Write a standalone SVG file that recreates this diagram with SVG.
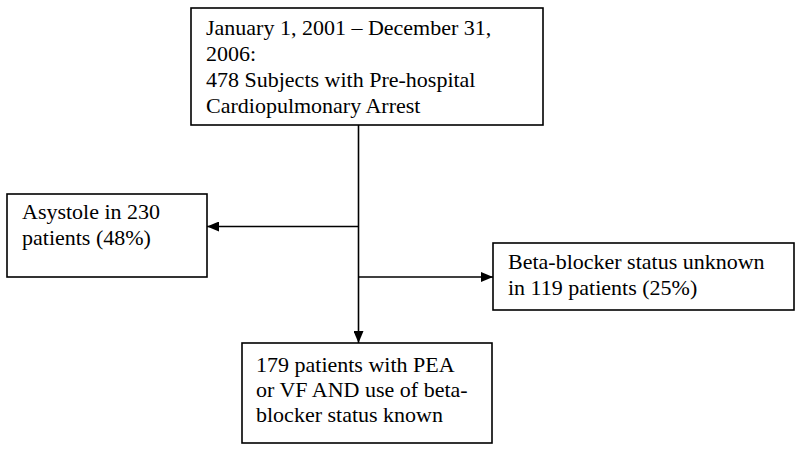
<svg xmlns="http://www.w3.org/2000/svg" width="800" height="450" viewBox="0 0 800 450">
<style>
rect{fill:#fff;stroke:#000;stroke-width:1.6}
text{font-family:'Liberation Serif','Times New Roman',serif;font-size:22px;fill:#000}
.c{stroke:#000;stroke-width:1.6;fill:none}
</style>
<defs>
<marker id="ah" viewBox="0 0 12 10" refX="12" refY="5" markerWidth="12" markerHeight="10" markerUnits="userSpaceOnUse" orient="auto">
<path d="M0,0L12,5L0,10Z" fill="#000"/>
</marker>
</defs>
<rect width="800" height="450" style="stroke:none"/>
<g id="connectors">
<path class="c" d="M358.5,125V343" marker-end="url(#ah)"/>
<path class="c" d="M358.5,226.5H207" marker-end="url(#ah)"/>
<path class="c" d="M358.5,277H493" marker-end="url(#ah)"/>
</g>
<g id="start">
<rect x="191" y="8" width="352" height="117"/>
<text x="206" y="35">January 1, 2001 – December 31,</text>
<text x="206" y="61">2006:</text>
<text x="206" y="87">478 Subjects with Pre-hospital</text>
<text x="206" y="113">Cardiopulmonary Arrest</text>
</g>
<g id="asystole">
<rect x="7" y="194" width="200" height="83"/>
<text x="22" y="219">Asystole in 230</text>
<text x="22" y="245">patients (48%)</text>
</g>
<g id="unknown">
<rect x="493" y="243" width="301" height="67"/>
<text x="508" y="269">Beta-blocker status unknown</text>
<text x="508" y="295">in 119 patients (25%)</text>
</g>
<g id="final">
<rect x="242" y="343" width="250" height="100"/>
<text x="256" y="372">179 patients with PEA</text>
<text x="256" y="397">or VF AND use of beta-</text>
<text x="256" y="422">blocker status known</text>
</g>
</svg>
